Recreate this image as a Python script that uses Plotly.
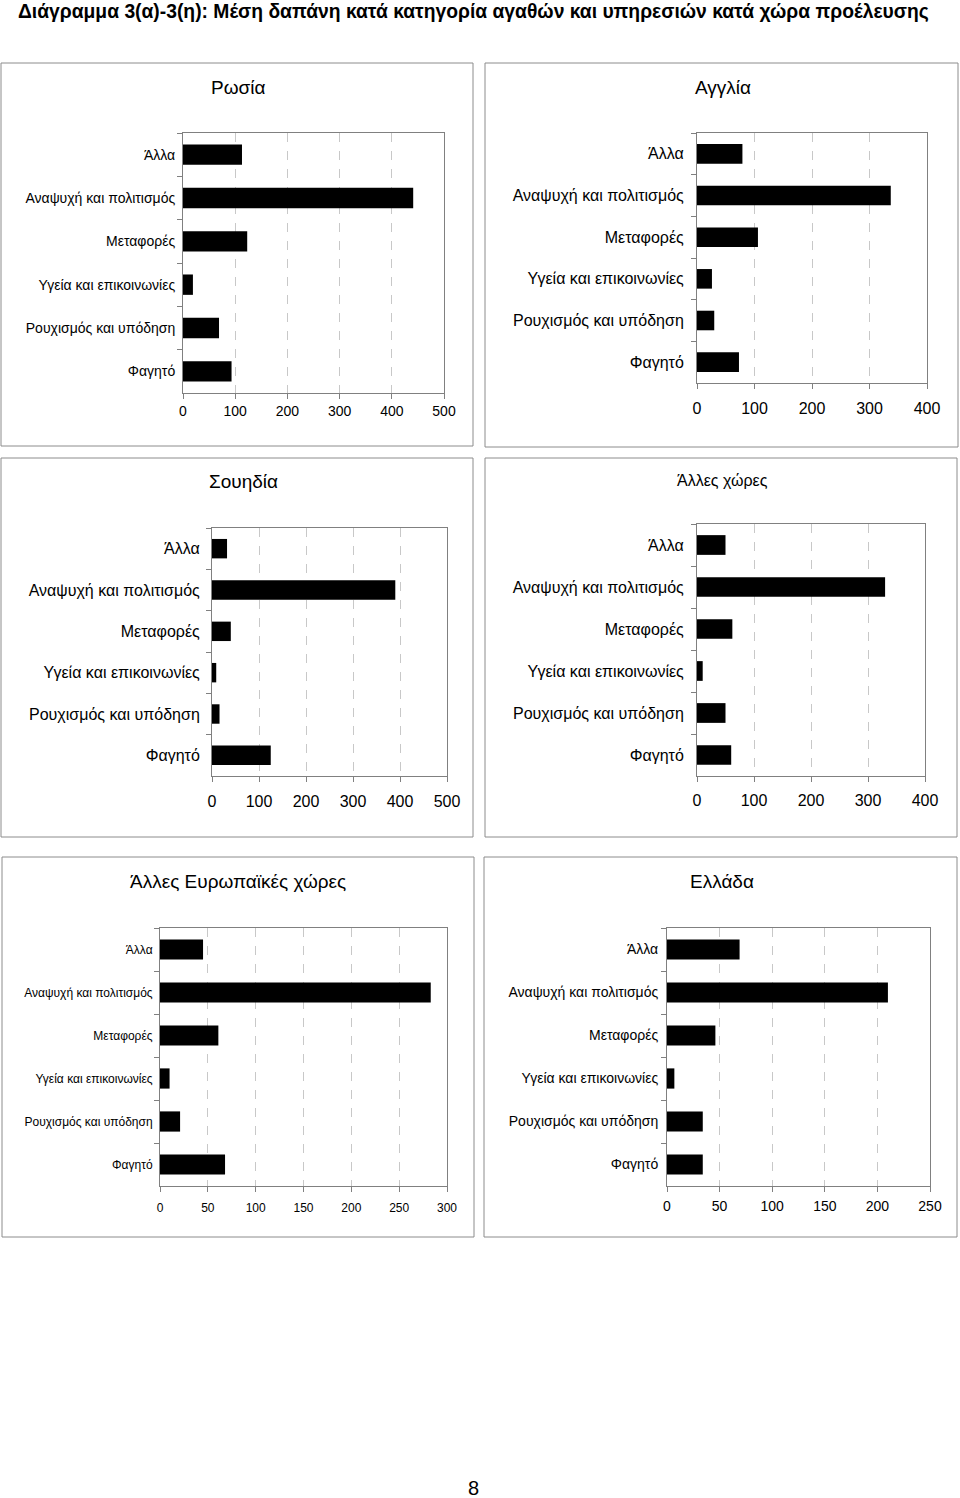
import plotly.graph_objects as go

W, H = 960, 1498

categories = ["Άλλα", "Αναψυχή και πολιτισμός", "Μεταφορές",
              "Υγεία και επικοινωνίες", "Ρουχισμός και υπόδηση", "Φαγητό"]

russia = [113, 441, 123, 19, 69, 93]
england = [79, 337, 106, 26, 30, 73]
sweden = [32, 390, 40, 9, 16, 125]
other_countries = [50, 330, 62, 10, 50, 60]
other_europe = [45, 283, 61, 10, 21, 68]
greece = [69, 210, 46, 7, 34, 34]

titles = ["Ρωσία", "Αγγλία", "Σουηδία", "Άλλες χώρες",
          "Άλλες Ευρωπαϊκές χώρες", "Ελλάδα"]
series = [russia, england, sweden, other_countries, other_europe, greece]
x_max = [500, 400, 500, 400, 300, 250]
x_dtick = [100, 100, 100, 100, 50, 50]

# layout geometry (pixels)
plot_boxes = [  # x0, x1, y0(top), y1(bottom)
    (183, 444, 133, 393),
    (697, 927, 133, 383),
    (212, 447, 528, 776),
    (697, 925, 524, 776),
    (160, 447, 928, 1186),
    (667, 930, 928, 1186),
]
frames = [
    (1, 473, 63, 446),
    (485, 958, 63, 447),
    (1, 473, 458, 837),
    (485, 957, 458, 837),
    (2, 474, 857, 1237),
    (484, 957, 857, 1237),
]
title_pos = [(238, 87, 19), (723, 87, 19), (243, 482, 19),
             (722, 480, 16), (238, 882, 19), (722, 882, 19)]
label_size = [14, 16, 16, 16, 12, 14]
tick_size = [14, 16, 16, 16, 12, 14]
y_standoff = [4, 9, 8, 9, 4, 5]
x_standoff = [0, 6, 6, 5, 6, 2]

FONT = "Liberation Sans, Arial, sans-serif"

fig = go.Figure()
layout = dict(
    width=W, height=H, autosize=False, margin=dict(l=0, r=0, t=0, b=0, pad=0),
    paper_bgcolor="white", plot_bgcolor="white",
    showlegend=False, font=dict(family=FONT, color="black"),
    shapes=[], annotations=[],
)

for i in range(6):
    n = "" if i == 0 else str(i + 1)
    xa, ya = "x" + n, "y" + n
    fig.add_trace(go.Bar(
        x=series[i], y=categories, orientation="h",
        marker=dict(color="black", line=dict(width=0)),
        width=0.47, xaxis=xa, yaxis=ya, hoverinfo="x+y",
    ))
    x0, x1, y0, y1 = plot_boxes[i]
    layout["xaxis" + n] = dict(
        domain=[x0 / W, x1 / W], anchor=ya, range=[0, x_max[i]],
        dtick=x_dtick[i], tick0=0, showgrid=True, gridcolor="#c8c8c8",
        griddash="dash", gridwidth=1, showline=True, linecolor="#808080",
        linewidth=1, mirror=True, ticks="outside", ticklen=5,
        tickcolor="#808080", zeroline=False, automargin=False,
        ticklabelstandoff=x_standoff[i],
        tickfont=dict(size=tick_size[i], family=FONT, color="black"),
        fixedrange=True,
    )
    layout["yaxis" + n] = dict(
        domain=[1 - y1 / H, 1 - y0 / H], anchor=xa, autorange="reversed",
        type="category", showline=True, linecolor="#808080", linewidth=1,
        mirror=True, ticks="outside", ticklen=5, tickcolor="#808080",
        tickson="boundaries", showgrid=False, automargin=False,
        ticklabelstandoff=y_standoff[i],
        tickfont=dict(size=label_size[i], family=FONT, color="black"),
        fixedrange=True,
    )
    fx0, fx1, fy0, fy1 = frames[i]
    layout["shapes"].append(dict(
        type="rect", xref="paper", yref="paper",
        x0=fx0 / W, x1=fx1 / W, y0=1 - fy1 / H, y1=1 - fy0 / H,
        line=dict(color="#8c8c8c", width=1), fillcolor="rgba(0,0,0,0)",
        layer="below",
    ))
    tx, ty, ts = title_pos[i]
    layout["annotations"].append(dict(
        text=titles[i], x=tx / W, y=1 - ty / H, xref="paper", yref="paper",
        showarrow=False, xanchor="center", yanchor="middle",
        font=dict(size=ts, family=FONT, color="black"),
    ))

layout["annotations"].append(dict(
    text="<b>Διάγραμμα 3(α)-3(η): Μέση δαπάνη κατά κατηγορία αγαθών και υπηρεσιών κατά χώρα προέλευσης</b>",
    x=473 / W, y=1 - 12 / H, xref="paper", yref="paper", showarrow=False,
    xanchor="center", yanchor="middle",
    font=dict(size=19.3, family=FONT, color="black"),
))
layout["annotations"].append(dict(
    text="8", x=473 / W, y=1 - 1488 / H, xref="paper", yref="paper",
    showarrow=False, xanchor="center", yanchor="middle",
    font=dict(size=20, family=FONT, color="black"),
))

fig.update_layout(**layout)
fig.write_html(
    "out.html",
    config={"responsive": False, "displayModeBar": False},
    post_script=("document.body.style.margin='0';"
                 "document.body.style.overflow='hidden';"
                 "document.documentElement.style.overflow='hidden';"),
)
